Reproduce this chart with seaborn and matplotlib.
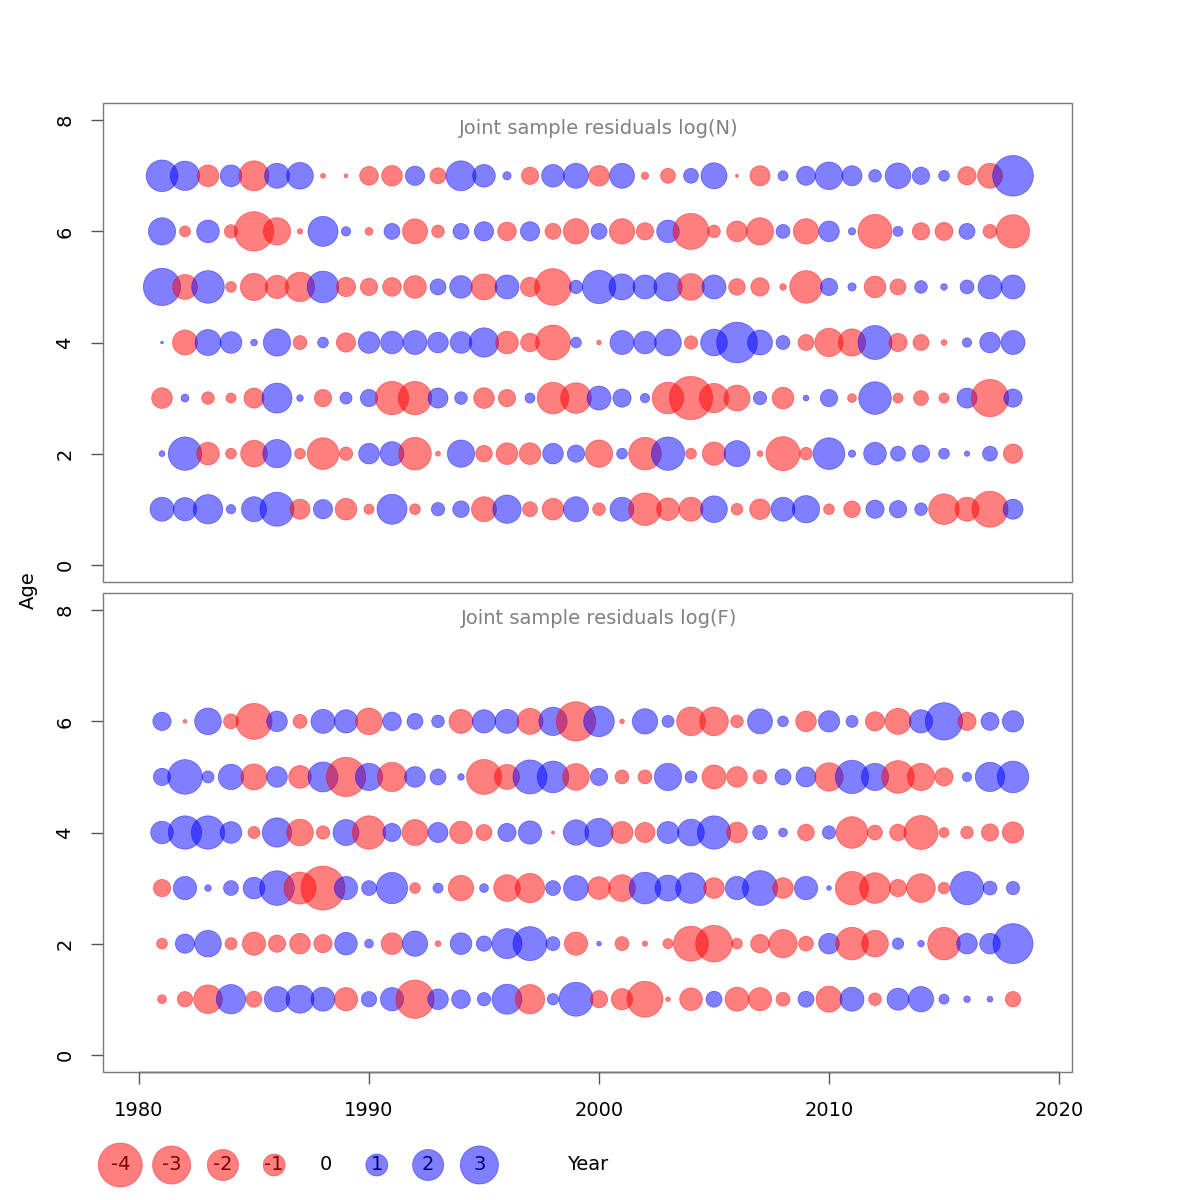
import numpy as np
import pandas as pd
import matplotlib
matplotlib.use("Agg")
import matplotlib.pyplot as plt
import seaborn as sns
from matplotlib.patches import Rectangle

years = list(range(1981, 2019))

# Joint sample residuals log(N), one list per age (1981..2018)
n_age1 = [1.19, 1.12, 1.78, 0.18, 1.29, 2.39, -0.83, 0.77, -0.97, -0.21,
          1.86, -0.24, 0.37, 0.57, -1.29, 1.66, -0.46, -0.97, 1.29, -0.33,
          1.19, -2.20, -1.06, -1.19, 1.47, -0.28, -0.88, 1.19, 1.54, -0.24,
          -0.57, 0.69, 0.62, 0.33, -1.94, -1.19, -2.68, 0.83]
n_age2 = [0.07, 2.30, -1.06, -0.24, -1.47, 1.66, -0.24, -2.07, -0.37, 0.88,
          1.19, -2.20, -0.05, 1.54, -0.57, -0.97, -0.97, 0.88, 0.62, -1.54,
          0.24, -2.20, 2.30, -0.24, -1.12, 1.40, -0.07, -2.39, -0.33, 2.07,
          0.11, 1.06, 0.46, 0.62, 0.24, 0.06, 0.46, -0.77]
n_age3 = [-0.88, 0.13, -0.33, -0.21, -0.83, 1.86, 0.09, -0.62, 0.30, 0.62,
          -2.30, -2.30, 0.83, 0.33, -0.88, -0.62, 0.21, -2.07, -1.94, 1.19,
          0.69, 0.18, -2.07, -3.88, -1.78, -1.40, 0.37, -0.97, 0.07, 0.62,
          -0.16, 2.20, -0.21, -0.46, -0.21, 0.83, -2.88, 0.69]
n_age4 = [0.015, -1.29, 1.40, 0.97, 0.09, 1.54, -0.40, 0.24, -0.77, 0.97,
          1.06, 1.19, 0.88, 0.97, 1.78, -1.06, -0.72, -2.53, 0.24, -0.045,
          1.19, 1.06, 1.47, -0.37, 1.47, 3.42, 1.29, 0.40, -0.53, -1.66,
          -1.54, 2.39, -0.69, -0.53, -0.07, 0.18, 0.88, 1.19]
n_age5 = [2.88, -1.29, 2.20, -0.24, -1.54, -1.12, -1.78, 2.07, -0.77, -0.62,
          -0.72, -1.06, 0.53, 1.06, -1.40, 1.19, -0.77, -2.78, 0.37, 2.30,
          1.40, 1.19, 1.66, -1.47, 1.19, -0.57, -0.69, -0.09, -2.20, 0.62,
          0.14, -0.97, -0.53, 0.33, 0.09, 0.40, 1.19, 1.19]
n_age6 = [1.54, -0.25, 1.06, -0.37, -3.20, -1.54, -0.06, 1.86, 0.18, -0.13,
          0.53, -1.29, -0.33, 0.53, 0.77, -0.72, 0.77, -0.53, -1.33, 0.53,
          -1.33, -0.62, 1.06, -2.68, -0.33, -0.88, -1.54, 0.40, -1.33, 0.88,
          0.11, -2.39, 0.21, -0.62, -0.67, 0.53, -0.40, -2.30]
n_age7 = [2.07, 1.78, -0.97, 0.97, -1.86, 1.29, 1.47, -0.05, -0.03, -0.72,
          -0.88, 0.77, -0.53, 1.86, 1.06, 0.14, -0.62, 1.06, 1.29, -0.88,
          1.29, -0.11, -0.46, 0.46, 1.40, -0.02, -0.83, 0.21, 0.75, 1.58,
          0.83, 0.33, 1.36, 0.62, 0.24, -0.69, -1.29, 3.42]

# Joint sample residuals log(F)
f_age1 = [-0.16, -0.49, -1.70, 1.78, -0.53, 1.33, 1.62, 1.19, -1.12, 0.49,
          1.12, -3.04, 0.88, 0.72, 0.37, 1.86, -1.78, 0.27, 2.39, -0.62,
          -0.94, -2.68, -0.045, -1.06, 0.53, -1.19, -1.12, -0.40, 0.53, -1.40,
          1.19, -0.33, 1.00, 1.33, 0.21, 0.09, 0.07, -0.49]
f_age2 = [-0.24, 0.77, 1.47, -0.30, -1.12, -0.62, -0.88, -0.69, 1.06, 0.16,
          -0.97, 1.33, -0.07, 0.97, 0.49, 1.86, 2.39, 0.40, -1.12, 0.045,
          -0.40, -0.06, -0.21, -2.53, -2.78, -0.24, -0.72, -1.66, -0.46, 0.88,
          -2.20, -1.47, 0.27, 0.09, -2.20, 0.88, 0.88, 3.31]
f_age3 = [-0.62, 1.12, 0.09, 0.46, 0.97, 2.48, -2.12, -4.25, 1.12, 0.46,
          2.03, -0.24, 0.21, -1.33, 0.16, -1.47, -1.78, 0.46, 1.29, -1.06,
          -1.47, 2.07, 1.40, 1.94, -0.88, 1.12, 2.53, -0.88, 1.12, 0.045,
          -2.30, -1.94, -0.62, -1.70, -0.28, 2.30, 0.40, 0.37]
f_age4 = [1.06, 2.30, 2.30, 0.97, -0.30, 1.78, -1.47, -0.37, 1.40, -2.30,
          0.69, -1.40, 0.83, -1.06, -0.53, 0.69, 1.12, -0.02, 1.33, 1.66,
          -1.00, -0.83, 1.00, 1.47, 2.30, -0.88, 0.44, 0.16, -0.57, 0.37,
          -2.07, -0.46, -0.57, -2.39, -0.21, -0.33, -0.62, -0.94]
f_age5 = [0.62, 2.48, 0.30, 1.33, -1.40, 0.88, -1.06, 1.86, -3.20, 1.54,
          -1.78, 0.88, 0.53, 0.09, -2.53, -1.29, 2.39, 2.07, -1.47, 0.62,
          -0.40, -0.40, 1.54, 0.30, -1.19, -0.88, -0.40, 0.53, 0.83, -1.66,
          2.30, 1.54, -2.20, -1.54, -0.69, 0.18, 1.78, 2.07]
f_age6 = [0.69, -0.03, 1.47, -0.46, -2.68, 0.88, -0.40, 1.19, 1.12, -1.47,
          0.72, 0.53, 0.33, -1.19, 1.12, 1.19, -1.40, 1.66, -3.20, 1.94,
          -0.045, 1.33, 0.30, -1.70, -1.70, -0.33, 1.29, 0.24, -0.88, 0.94,
          0.30, -0.77, -1.40, 1.12, 2.88, -0.69, 0.67, 0.94]

legend_vals = [-4, -3, -2, -1, 0, 1, 2, 3]
legend_labels = ["-4", "-3", "-2", "-1", "0", "1", "2", "3"]


def long_form(rows):
    parts = []
    for age, vals in enumerate(rows, start=1):
        parts.append(pd.DataFrame({"Year": years, "Age": age, "res": vals}))
    d = pd.concat(parts, ignore_index=True)
    d["sign"] = np.where(d["res"] < 0, "neg", "pos")
    d["mag"] = d["res"].abs()
    return d


df_n = long_form([n_age1, n_age2, n_age3, n_age4, n_age5, n_age6, n_age7])
df_f = long_form([f_age1, f_age2, f_age3, f_age4, f_age5, f_age6])

sns.set_style("white")
plt.rcParams["font.family"] = ["DejaVu Sans"]
plt.rcParams["text.color"] = "black"

pal = {"neg": (1, 0, 0), "pos": (0, 0, 1)}
# radius 11 px per sqrt(|res|) at 100 dpi -> area in pt^2
size_max = (2 * 11 * 0.72) ** 2 * 4
bubble_kw = dict(hue="sign", palette=pal, size="mag", sizes=(0, size_max),
                 size_norm=(0, 4), alpha=0.5, edgecolor="face", linewidth=0.5,
                 legend=False)

fig = plt.figure(figsize=(12, 12), dpi=100)
ax1 = fig.add_axes([103 / 1200, 1 - 582 / 1200, 969 / 1200, 479 / 1200])
ax2 = fig.add_axes([103 / 1200, 1 - 1072 / 1200, 969 / 1200, 479 / 1200])

for ax, d, title in [(ax1, df_n, "Joint sample residuals log(N)"),
                     (ax2, df_f, "Joint sample residuals log(F)")]:
    sns.scatterplot(data=d, x="Year", y="Age", ax=ax, **bubble_kw)
    ax.set_xlim(1978.435, 2020.565)
    ax.set_ylim(-0.31, 8.31)
    ax.set_xlabel("")
    ax.set_ylabel("")
    for s in ax.spines.values():
        s.set_visible(False)
    ax.add_patch(Rectangle((0, 0), 1, 1, transform=ax.transAxes, fill=False,
                           ec="#7a7a7a", lw=1.0, clip_on=False, zorder=5))
    ax.set_yticks([0, 2, 4, 6, 8])
    ax.tick_params(axis="y", left=True, length=8.6, width=1.0, color="#555555",
                   pad=12, labelsize=14, labelcolor="black")
    plt.setp(ax.get_yticklabels(), rotation=90, va="center")
    ax.text(2000, 7.86, title, ha="center", va="center", color="#808080",
            fontsize=14)

ax1.set_xticks([])
ax2.set_xticks([1980, 1990, 2000, 2010, 2020])
ax2.tick_params(axis="x", bottom=True, length=8.6, width=1.0, color="#555555",
                pad=12, labelsize=14, labelcolor="black")
ax2.spines["bottom"].set_visible(True)
ax2.spines["bottom"].set_color("black")
ax2.spines["bottom"].set_linewidth(1.0)
ax2.spines["bottom"].set_bounds(1980, 2020)

fig.text(28 / 1200, 1 - 590 / 1200, "Age", rotation=90, ha="center",
         va="center", fontsize=14)
fig.text(588 / 1200, 1 - 1165 / 1200, "Year", ha="center", va="center",
         fontsize=14)

# bubble size legend
lax = fig.add_axes([94.65 / 1200, 1 / 1200, 410.4 / 1200, 68 / 1200])
leg = pd.DataFrame({"pos": range(len(legend_vals)), "y": 0.0,
                    "res": legend_vals})
leg["sign"] = np.where(leg["res"] < 0, "neg", "pos")
leg["mag"] = leg["res"].abs()
for i, lab in enumerate(legend_labels):
    lax.text(i, 0, lab, ha="center", va="center", fontsize=14, zorder=1)
sns.scatterplot(data=leg[leg["mag"] > 0], x="pos", y="y", ax=lax, zorder=2,
                **bubble_kw)
lax.set_xlim(-0.5, 7.5)
lax.set_ylim(-1, 1)
lax.axis("off")

fig.savefig("out.png", dpi=100)
